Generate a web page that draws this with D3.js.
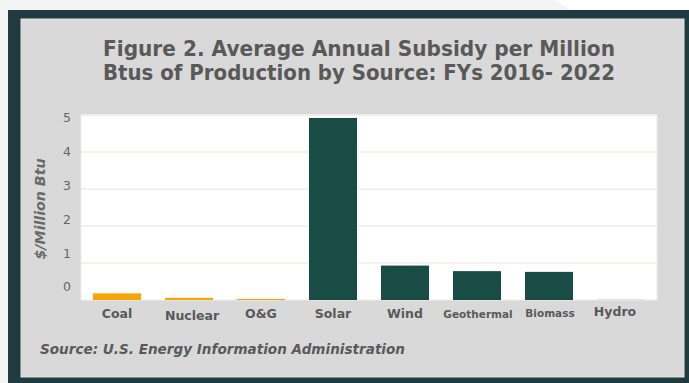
<!DOCTYPE html>
<html><head><meta charset="utf-8">
<script src="https://cdn.jsdelivr.net/npm/d3@7"></script>
<style>body{margin:0;background:#f4f4f4;}svg{display:block;}</style>
</head><body>
<svg id="c" width="689" height="383"></svg>
<script>
const categories = ["Coal","Nuclear","O&G","Solar","Wind","Geothermal","Biomass","Hydro"];
const values = [0.18, 0.06, 0.03, 4.92, 0.93, 0.78, 0.76, 0.01];
const groups = ["fossil","fossil","fossil","renew","renew","renew","renew","renew"];
const yTicks = [0,1,2,3,4,5];
const titleLines = ["Figure 2. Average Annual Subsidy per Million","Btus of Production by Source: FYs 2016- 2022"];
const yTitle = "$/Million Btu";
const source = "Source: U.S. Energy Information Administration";

const svg = d3.select("#c");
const F = "'DejaVu Sans', sans-serif";
// background
svg.append("rect").attr("x",0).attr("y",0).attr("width",689).attr("height",383).attr("fill","#f4f4f4");
svg.append("polygon").attr("points","555,0 689,0 689,10 570,10").attr("fill","#ffffff");
svg.append("rect").attr("x",8).attr("y",10).attr("width",681).attr("height",373).attr("fill","#1f3b40");
svg.append("rect").attr("x",21).attr("y",19).attr("width",663).attr("height",358).attr("fill","#d9d9d9").attr("stroke","#e2e2e2").attr("stroke-width",1);

// title
svg.selectAll("text.title").data(titleLines).join("text").attr("class","title")
  .attr("x",359).attr("y",(d,i)=>56+i*24).attr("text-anchor","middle")
  .attr("font-family",F).attr("font-weight","bold").attr("font-size",20.5)
  .attr("fill","#595959").attr("textLength",512).attr("lengthAdjust","spacingAndGlyphs").text(d=>d);

const x = d3.scaleBand().domain(categories).range([81,657]).paddingInner(1/3).paddingOuter(1/6);
const y = d3.scaleLinear().domain([0,5]).range([300,115]);
const yLab = d3.scaleLinear().domain([0,5]).range([287,118]);
const color = d3.scaleOrdinal().domain(["fossil","renew"]).range(["#f5a50a","#1a4c46"]);

svg.append("rect").attr("x",81).attr("y",y(5)).attr("width",576).attr("height",y(0)-y(5)).attr("fill","#ffffff").attr("stroke","#eeeeea").attr("stroke-width",1);
svg.append("g").selectAll("line").data(yTicks.filter(d=>d>0)).join("line")
  .attr("x1",81).attr("x2",657).attr("y1",d=>y(d)).attr("y2",d=>y(d))
  .attr("stroke","#efefe9").attr("stroke-width",1.5);

svg.append("g").selectAll("text").data(yTicks).join("text")
  .attr("x",67).attr("y",d=>yLab(d)).attr("dy","0.35em").attr("text-anchor","middle")
  .attr("font-family",F).attr("font-size",12.5).attr("fill","#666666").text(d=>d);

svg.append("text").attr("transform","translate(45,209) rotate(-90)").attr("text-anchor","middle")
  .attr("font-family",F).attr("font-weight","bold").attr("font-style","italic").attr("font-size",14)
  .attr("fill","#6a6a6a").attr("textLength",101).attr("lengthAdjust","spacingAndGlyphs").text(yTitle);

svg.append("g").selectAll("rect").data(categories).join("rect")
  .attr("x",d=>x(d)).attr("width",x.bandwidth())
  .attr("y",(d,i)=>y(values[i])).attr("height",(d,i)=>y(0)-y(values[i]))
  .attr("fill",(d,i)=>color(groups[i])).attr("opacity",(d,i)=>values[i]<0.02?0.3:1);

const labDy = {"Nuclear":2,"Hydro":-2,"Geothermal":0,"Biomass":-1};
const labDx = {"Nuclear":3,"Hydro":-6,"Geothermal":1,"Biomass":1};
const labSize = {"Geothermal":10.5,"Biomass":10.5};
svg.append("g").selectAll("text").data(categories).join("text")
  .attr("x",d=>x(d)+x.bandwidth()/2+(labDx[d]||0)).attr("y",d=>318+(labDy[d]||0))
  .attr("text-anchor","middle").attr("font-family",F).attr("font-weight","bold")
  .attr("font-size",d=>labSize[d]||12.5).attr("fill","#595959").text(d=>d);

svg.append("text").attr("x",40).attr("y",354).attr("font-family",F).attr("font-weight","bold")
  .attr("font-style","italic").attr("font-size",13.5).attr("fill","#595959")
  .attr("textLength",365).attr("lengthAdjust","spacingAndGlyphs").text(source);
</script>
</body></html>
